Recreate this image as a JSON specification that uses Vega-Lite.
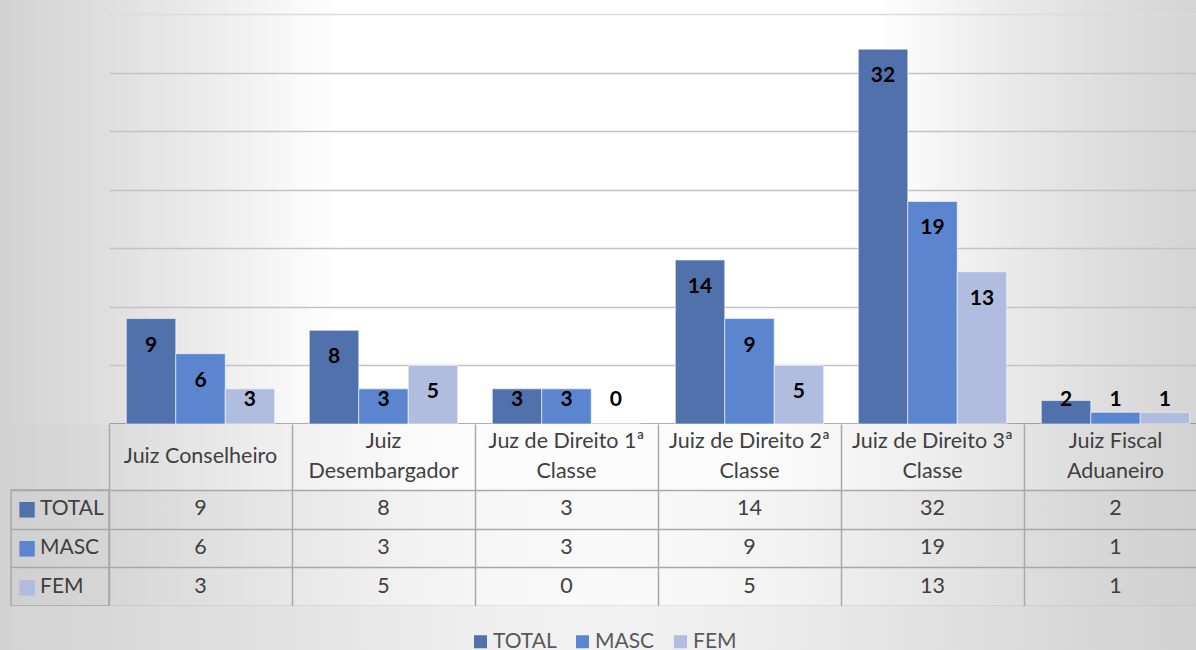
{
  "$schema": "https://vega.github.io/schema/vega-lite/v6.json",
  "background": "#d3d3d3",
  "padding": {"left": 10, "top": 0, "right": 0, "bottom": 0},
  "config": {
    "font": "Lato",
    "view": {"stroke": null},
    "axis": {"gridCap": "butt"}
  },
  "datasets": {
    "counts": [
      {"cargo": "Juiz Conselheiro", "genero": "TOTAL", "n": 9},
      {"cargo": "Juiz Conselheiro", "genero": "MASC", "n": 6},
      {"cargo": "Juiz Conselheiro", "genero": "FEM", "n": 3},
      {"cargo": "Juiz Desembargador", "genero": "TOTAL", "n": 8},
      {"cargo": "Juiz Desembargador", "genero": "MASC", "n": 3},
      {"cargo": "Juiz Desembargador", "genero": "FEM", "n": 5},
      {"cargo": "Juz de Direito 1ª Classe", "genero": "TOTAL", "n": 3},
      {"cargo": "Juz de Direito 1ª Classe", "genero": "MASC", "n": 3},
      {"cargo": "Juz de Direito 1ª Classe", "genero": "FEM", "n": 0},
      {"cargo": "Juiz de Direito 2ª Classe", "genero": "TOTAL", "n": 14},
      {"cargo": "Juiz de Direito 2ª Classe", "genero": "MASC", "n": 9},
      {"cargo": "Juiz de Direito 2ª Classe", "genero": "FEM", "n": 5},
      {"cargo": "Juiz de Direito 3ª Classe", "genero": "TOTAL", "n": 32},
      {"cargo": "Juiz de Direito 3ª Classe", "genero": "MASC", "n": 19},
      {"cargo": "Juiz de Direito 3ª Classe", "genero": "FEM", "n": 13},
      {"cargo": "Juiz Fiscal Aduaneiro", "genero": "TOTAL", "n": 2},
      {"cargo": "Juiz Fiscal Aduaneiro", "genero": "MASC", "n": 1},
      {"cargo": "Juiz Fiscal Aduaneiro", "genero": "FEM", "n": 1}
    ],
    "cargos": [
      {"cargo": "Juiz Conselheiro", "rotulo": "Juiz Conselheiro"},
      {"cargo": "Juiz Desembargador", "rotulo": "Juiz\nDesembargador"},
      {"cargo": "Juz de Direito 1ª Classe", "rotulo": "Juz de Direito 1ª\nClasse"},
      {"cargo": "Juiz de Direito 2ª Classe", "rotulo": "Juiz de Direito 2ª\nClasse"},
      {"cargo": "Juiz de Direito 3ª Classe", "rotulo": "Juiz de Direito 3ª\nClasse"},
      {"cargo": "Juiz Fiscal Aduaneiro", "rotulo": "Juiz Fiscal\nAduaneiro"}
    ],
    "generos": [
      {"genero": "TOTAL"},
      {"genero": "MASC"},
      {"genero": "FEM"}
    ]
  },
  "columns": 2,
  "spacing": 0,
  "bounds": "flush",
  "concat": [
    {
      "width": 98, "height": 424,
      "view": {"stroke": null, "fill": {"gradient": "linear", "x1": 0, "y1": 0, "x2": 1, "y2": 0,
        "stops": [{"offset": 0, "color": "#d4d4d4"}, {"offset": 1, "color": "#dfdfdf"}]}},
      "data": {"values": []},
      "mark": "text"
    },
    {
      "width": 1098, "height": 424,
      "view": {"stroke": null, "fill": {"gradient": "linear", "x1": 0, "y1": 0, "x2": 1, "y2": 0,
        "stops": [
          {"offset": 0, "color": "#dfdfdf"},
          {"offset": 0.084, "color": "#ebebeb"},
          {"offset": 0.21, "color": "#ffffff"},
          {"offset": 0.7, "color": "#ffffff"},
          {"offset": 0.812, "color": "#ebebeb"},
          {"offset": 0.903, "color": "#dedede"},
          {"offset": 1, "color": "#d3d3d3"}
        ]}},
      "data": {"name": "counts"},
      "encoding": {
        "x": {
          "field": "cargo", "type": "nominal", "sort": null,
          "scale": {"domain": ["Juiz Conselheiro", "Juiz Desembargador", "Juz de Direito 1ª Classe", "Juiz de Direito 2ª Classe", "Juiz de Direito 3ª Classe", "Juiz Fiscal Aduaneiro"], "paddingInner": 0, "paddingOuter": 0},
          "axis": {"title": null, "labels": false, "ticks": false, "grid": false, "domain": true, "domainColor": "#5e5e5e", "domainWidth": 2}
        },
        "xOffset": {
          "field": "genero", "type": "nominal",
          "scale": {"domain": ["TOTAL", "MASC", "FEM"], "paddingInner": 0, "paddingOuter": 0.35}
        },
        "y": {
          "field": "n", "type": "quantitative",
          "scale": {"domain": [0, 36.2], "nice": false, "zero": true},
          "axis": {
            "title": null, "labels": false, "ticks": false, "domain": false,
            "values": [5, 10, 15, 20, 25, 30, 35],
            "grid": true, "gridWidth": 1.5,
            "gridColor": {"condition": {"test": "datum.value === 35", "value": "#dcdcdc"}, "value": "#c3c3c3"}
          }
        }
      },
      "layer": [
        {
          "mark": {"type": "bar", "stroke": "#ffffff", "strokeWidth": 1, "strokeOpacity": 0.55},
          "encoding": {
            "color": {
              "field": "genero", "type": "nominal",
              "scale": {"domain": ["TOTAL", "MASC", "FEM"], "range": ["#5071ac", "#5b86cf", "#b0bddf"]},
              "legend": {
                "orient": "none", "direction": "horizontal", "legendX": 459, "legendY": 631,
                "title": null, "padding": 0, "symbolType": "square", "symbolSize": 169,
                "symbolStrokeWidth": 0, "symbolOpacity": 1, "labelFontSize": 21, "labelColor": "#595959",
                "labelOffset": 2, "columnPadding": 15
              }
            }
          }
        },
        {
          "mark": {"type": "text", "fontWeight": "bold", "fontSize": 21, "color": "#000000",
            "baseline": "middle", "dy": {"expr": "min(27, (datum.n - 2.05) * 11.714)"}},
          "encoding": {"text": {"field": "n", "type": "quantitative"}}
        }
      ]
    },
    {
      "width": 98, "height": 66,
      "view": {"stroke": null, "fill": {"gradient": "linear", "x1": 0, "y1": 0, "x2": 1, "y2": 0,
        "stops": [{"offset": 0, "color": "#d2d2d2"}, {"offset": 1, "color": "#dbdbdb"}]}},
      "data": {"values": []},
      "mark": "text"
    },
    {
      "width": 1098, "height": 66,
      "view": {"stroke": null, "fill": {"gradient": "linear", "x1": 0, "y1": 0, "x2": 1, "y2": 0,
        "stops": [
          {"offset": 0, "color": "#dbdbdb"},
          {"offset": 0.084, "color": "#e6e6e6"},
          {"offset": 0.175, "color": "#f1f1f1"},
          {"offset": 0.3, "color": "#fcfcfc"},
          {"offset": 0.59, "color": "#fcfcfc"},
          {"offset": 0.721, "color": "#f1f1f1"},
          {"offset": 0.812, "color": "#e6e6e6"},
          {"offset": 0.903, "color": "#dbdbdb"},
          {"offset": 1, "color": "#d2d2d2"}
        ]}},
      "data": {"name": "cargos"},
      "mark": {"type": "text", "fontSize": 21.5, "color": "#404040", "lineBreak": "\n", "lineHeight": 30,
        "baseline": "middle", "dy": {"expr": "indexof(datum.rotulo, '\\n') >= 0 ? -15 : 0"}},
      "encoding": {
        "x": {
          "field": "cargo", "type": "nominal", "sort": null,
          "scale": {"domain": ["Juiz Conselheiro", "Juiz Desembargador", "Juz de Direito 1ª Classe", "Juiz de Direito 2ª Classe", "Juiz de Direito 3ª Classe", "Juiz Fiscal Aduaneiro"], "paddingInner": 0, "paddingOuter": 0},
          "axis": {"title": null, "labels": false, "ticks": false, "domain": false, "grid": true, "tickBand": "extent", "gridColor": "#a8a8a8", "gridWidth": 1.5}
        },
        "text": {"field": "rotulo", "type": "nominal"}
      }
    },
    {
      "width": 98, "height": 116,
      "view": {"stroke": "#a8a8a8", "strokeWidth": 1.5, "fill": {"gradient": "linear", "x1": 0, "y1": 0, "x2": 1, "y2": 0,
        "stops": [{"offset": 0, "color": "#d0d0d0"}, {"offset": 1, "color": "#d6d6d6"}]}},
      "data": {"name": "generos"},
      "encoding": {
        "y": {
          "field": "genero", "type": "nominal", "sort": null,
          "scale": {"domain": ["TOTAL", "MASC", "FEM"], "paddingInner": 0, "paddingOuter": 0},
          "axis": {"title": null, "labels": false, "ticks": false, "domain": false, "grid": true, "tickBand": "extent", "gridColor": "#a8a8a8", "gridWidth": 1.5}
        }
      },
      "layer": [
        {
          "mark": {"type": "text", "text": "■", "font": "DejaVu Sans", "fontSize": 20, "dx": -33, "baseline": "middle"},
          "encoding": {
            "color": {"field": "genero", "type": "nominal", "legend": null}
          }
        },
        {
          "mark": {"type": "text", "align": "left", "dx": -20, "fontSize": 21, "color": "#404040", "baseline": "middle"},
          "encoding": {"text": {"field": "genero", "type": "nominal"}}
        }
      ]
    },
    {
      "width": 1098, "height": 116,
      "view": {"stroke": null, "fill": {"gradient": "linear", "x1": 0, "y1": 0, "x2": 1, "y2": 0,
        "stops": [
          {"offset": 0, "color": "#d6d6d6"},
          {"offset": 0.084, "color": "#dfdfdf"},
          {"offset": 0.175, "color": "#e8e8e8"},
          {"offset": 0.266, "color": "#f1f1f1"},
          {"offset": 0.357, "color": "#f7f7f7"},
          {"offset": 0.448, "color": "#f9f9f9"},
          {"offset": 0.539, "color": "#f7f7f7"},
          {"offset": 0.63, "color": "#f1f1f1"},
          {"offset": 0.721, "color": "#e8e8e8"},
          {"offset": 0.812, "color": "#dfdfdf"},
          {"offset": 0.903, "color": "#d6d6d6"},
          {"offset": 1, "color": "#d0d0d0"}
        ]}},
      "data": {"name": "counts"},
      "mark": {"type": "text", "fontSize": 21.5, "color": "#404040"},
      "encoding": {
        "x": {
          "field": "cargo", "type": "nominal", "sort": null,
          "scale": {"domain": ["Juiz Conselheiro", "Juiz Desembargador", "Juz de Direito 1ª Classe", "Juiz de Direito 2ª Classe", "Juiz de Direito 3ª Classe", "Juiz Fiscal Aduaneiro"], "paddingInner": 0, "paddingOuter": 0},
          "axis": {"title": null, "labels": false, "ticks": false, "domain": false, "grid": true, "tickBand": "extent", "gridColor": "#a8a8a8", "gridWidth": 1.5}
        },
        "y": {
          "field": "genero", "type": "nominal", "sort": null,
          "scale": {"domain": ["TOTAL", "MASC", "FEM"], "paddingInner": 0, "paddingOuter": 0},
          "axis": {"title": null, "labels": false, "ticks": false, "domain": false, "grid": true, "tickBand": "extent", "gridColor": "#a8a8a8", "gridWidth": 1.5}
        },
        "text": {"field": "n", "type": "quantitative"}
      }
    },
    {
      "width": 98, "height": 44,
      "view": {"stroke": null, "fill": {"gradient": "linear", "x1": 0, "y1": 0, "x2": 1, "y2": 0,
        "stops": [{"offset": 0, "color": "#d4d4d4"}, {"offset": 1, "color": "#d8d8d8"}]}},
      "data": {"values": []},
      "mark": "text"
    },
    {
      "width": 1098, "height": 44,
      "view": {"stroke": null, "fill": {"gradient": "linear", "x1": 0, "y1": 0, "x2": 1, "y2": 0,
        "stops": [
          {"offset": 0, "color": "#d8d8d8"},
          {"offset": 0.175, "color": "#e3e3e3"},
          {"offset": 0.312, "color": "#ededed"},
          {"offset": 0.448, "color": "#f2f2f2"},
          {"offset": 0.585, "color": "#ededed"},
          {"offset": 0.721, "color": "#e3e3e3"},
          {"offset": 0.903, "color": "#d6d6d6"},
          {"offset": 1, "color": "#d2d2d2"}
        ]}},
      "data": {"values": []},
      "mark": "text"
    }
  ]
}
